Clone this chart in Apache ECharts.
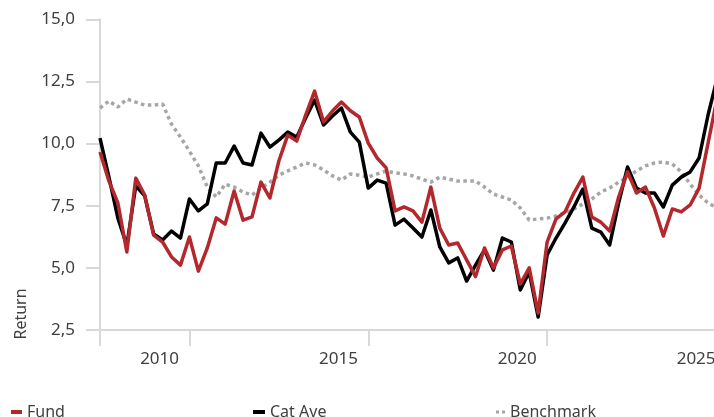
<!DOCTYPE html>
<html>
<head>
<meta charset="utf-8">
<title>Return</title>
<script src="https://cdn.jsdelivr.net/npm/echarts@6/dist/echarts.min.js"></script>
<style>
  html, body { margin: 0; padding: 0; background: #fff; }
  #chart { width: 714px; height: 417px; }
</style>
</head>
<body>
<div id="chart"></div>
<script>
// quarterly points, first one is 2008 Q2
const startYear = 2008
const startQuarter = 2
const pointCount = 70

const quarters = []
for (let i = 0; i < pointCount; i++) {
  const q = startQuarter - 1 + i
  quarters.push((startYear + Math.floor(q / 4)) + '-Q' + (q % 4 + 1))
}

const fund = [
  9.66, 8.49, 7.61, 5.64, 8.61, 7.93, 6.32, 6.04, 5.44, 5.11,
  6.24, 4.87, 5.80, 7.01, 6.76, 8.09, 6.92, 7.05, 8.45, 7.81,
  9.30, 10.34, 10.10, 11.15, 12.11, 10.87, 11.31, 11.67, 11.32, 11.07,
  10.02, 9.42, 9.02, 7.29, 7.45, 7.29, 6.84, 8.25, 6.60, 5.92,
  6.00, 5.32, 4.65, 5.80, 5.00, 5.72, 5.88, 4.35, 5.00, 3.18,
  6.04, 6.97, 7.25, 8.01, 8.65, 7.05, 6.84, 6.48, 7.85, 8.86,
  8.01, 8.25, 7.41, 6.28, 7.37, 7.25, 7.53, 8.21, 10.02, 11.80
]

const catAve = [
  10.22, 8.65, 7.00, 5.90, 8.30, 7.90, 6.36, 6.12, 6.48, 6.20,
  7.77, 7.29, 7.57, 9.22, 9.22, 9.90, 9.22, 9.14, 10.42, 9.86,
  10.14, 10.46, 10.26, 11.03, 11.75, 10.75, 11.11, 11.43, 10.46, 10.06,
  8.21, 8.53, 8.41, 6.72, 6.96, 6.60, 6.24, 7.33, 5.84, 5.20,
  5.40, 4.47, 5.11, 5.72, 4.91, 6.20, 6.04, 4.11, 4.83, 3.02,
  5.52, 6.20, 6.80, 7.45, 8.17, 6.60, 6.44, 5.92, 7.61, 9.06,
  8.21, 8.01, 8.01, 7.45, 8.33, 8.65, 8.86, 9.42, 11.15, 12.60
]

const benchmark = [
  11.43, 11.71, 11.47, 11.79, 11.67, 11.55, 11.55, 11.59, 10.78, 10.26,
  9.70, 9.10, 8.25, 7.85, 8.37, 8.25, 8.05, 7.93, 8.21, 8.45,
  8.73, 8.90, 9.06, 9.22, 9.14, 8.94, 8.70, 8.53, 8.78, 8.73,
  8.65, 8.78, 8.90, 8.82, 8.78, 8.70, 8.57, 8.45, 8.65, 8.57,
  8.49, 8.49, 8.49, 8.25, 7.97, 7.85, 7.73, 7.41, 6.92, 6.97,
  7.00, 7.09, 7.21, 7.37, 7.57, 7.77, 8.05, 8.21, 8.45, 8.65,
  8.90, 9.10, 9.22, 9.26, 9.18, 8.86, 8.37, 7.93, 7.61, 7.41
]

const yTicks = { min: 2.5, max: 15, step: 2.5 }

const labelFont = 'Noto Sans'
const gridLine = '#d9d9d9'
const textColor = '#404040'

// year label sits on Q1 of every fifth year, tick mark on Q4 of the same year
const isLabelQuarter = (idx) => {
  const [y, q] = quarters[idx].split('-Q').map(Number)
  return q === 1 && y % 5 === 0
}
const isTickQuarter = (idx) => {
  if (idx === 0) return true
  const [y, q] = quarters[idx].split('-Q').map(Number)
  return q === 4 && y % 5 === 0
}

const legendText = { color: textColor, fontFamily: labelFont, fontSize: 16, lineHeight: 16 }

const chart = echarts.init(document.getElementById('chart'), null, { renderer: 'canvas' })

chart.setOption({
  animation: false,
  backgroundColor: '#ffffff',
  grid: {
    left: 100,
    right: -3,
    top: 19.3,
    bottom: 87,
    containLabel: false,
    outerBoundsMode: 'none'
  },
  xAxis: {
    type: 'category',
    data: quarters,
    boundaryGap: false,
    axisLine: { show: true, onZero: false, lineStyle: { color: gridLine, width: 2 } },
    axisTick: {
      show: true,
      length: 16,
      interval: (idx) => isTickQuarter(idx),
      lineStyle: { color: gridLine, width: 2 }
    },
    axisLabel: {
      interval: (idx) => isLabelQuarter(idx),
      formatter: (v) => v.split('-')[0],
      margin: 21,
      padding: [0, 6, 0, 0],
      color: textColor,
      fontFamily: labelFont,
      fontSize: 17
    },
    splitLine: { show: false }
  },
  yAxis: {
    type: 'value',
    min: yTicks.min,
    max: yTicks.max,
    interval: yTicks.step,
    axisLine: { show: true, lineStyle: { color: gridLine, width: 2 } },
    axisTick: { show: true, length: 14, lineStyle: { color: gridLine, width: 2 } },
    axisLabel: {
      margin: 25,
      formatter: (v) => v.toFixed(1).replace('.', ','),
      color: textColor,
      fontFamily: labelFont,
      fontSize: 17
    },
    splitLine: { show: false }
  },
  legend: [
    {
      data: ['Fund'],
      left: 11,
      top: 404,
      padding: 0,
      icon: 'rect',
      itemWidth: 11,
      itemHeight: 4,
      textStyle: legendText
    },
    {
      data: ['Cat Ave'],
      left: 253,
      top: 404,
      padding: 0,
      icon: 'rect',
      itemWidth: 12,
      itemHeight: 4,
      textStyle: legendText
    },
    {
      data: ['Benchmark'],
      left: 496,
      top: 404,
      padding: 0,
      icon: 'path://M0,0h3v3h-3z M6,0h3v3h-3z',
      itemWidth: 9,
      itemHeight: 3,
      textStyle: legendText
    }
  ],
  graphic: [
    {
      type: 'text',
      x: 21.5,
      y: 314,
      rotation: Math.PI / 2,
      style: {
        text: 'Return',
        fill: textColor,
        font: '16px "Noto Sans"',
        align: 'center',
        verticalAlign: 'middle'
      }
    }
  ],
  series: [
    {
      name: 'Benchmark',
      type: 'line',
      data: benchmark,
      symbol: 'none',
      color: '#a6a6a6',
      lineStyle: { width: 3.5, type: [3.5, 3.5], cap: 'butt', color: '#a6a6a6' }
    },
    {
      name: 'Cat Ave',
      type: 'line',
      data: catAve,
      symbol: 'none',
      color: '#000000',
      lineStyle: { width: 3.5, color: '#000000', join: 'round' }
    },
    {
      name: 'Fund',
      type: 'line',
      data: fund,
      symbol: 'none',
      color: '#b3282d',
      lineStyle: { width: 3.5, color: '#b3282d', join: 'round' }
    }
  ]
})
</script>
</body>
</html>
